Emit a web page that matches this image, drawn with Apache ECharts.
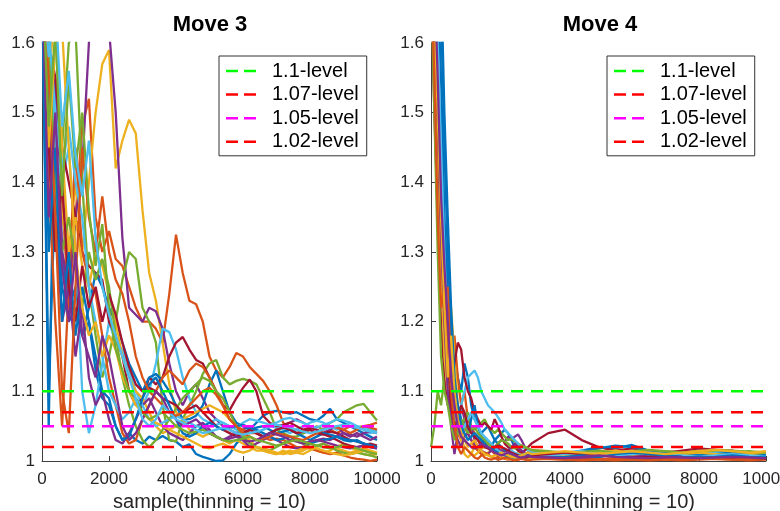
<!DOCTYPE html>
<html><head><meta charset="utf-8">
<script src="https://cdn.jsdelivr.net/npm/echarts@6/dist/echarts.min.js"></script>
<style>html,body{margin:0;padding:0;background:#fff}#c{width:780px;height:511px}</style>
</head><body><div id="c"></div>
<script>
// ---------- Move 3 (left panel) ----------
const move3Samples = [0,200,400,600,800,1000,1200,1400,1600,1800,2000,2200,2400,2600,2800,3000,3200,3400,3600,3800,4000,4200,4400,4600,4800,5000,5200,5400,5600,5800,6000,6200,6400,6600,6800,7000,7200,7400,7600,7800,8000,8200,8400,8600,8800,9000,9200,9400,9600,9800,10000];
const m3c01 = [1.70,1.05,1.55,1.30,1.22,1.25,1.18,1.20,1.13,1.09, 1.08,1.05,1.03,1.04,1.03,1.025,1.035,1.03,1.036,1.03, 1.028,1.02,1.024,1.01,1.006,1.003,1.0,1.001,1.01,1.025, 1.035,1.045,1.055,1.065,1.07,1.072,1.07,1.068,1.07,1.065, 1.06,1.058,1.065,1.075,1.06,1.055,1.05,1.045,1.04,1.035, 1.03];
const m3c02 = [1.70,1.45,1.30,1.38,1.22,1.35,1.48,1.52,1.35,1.30, 1.33,1.29,1.28,1.25,1.22,1.20,1.20,1.19,1.17,1.24, 1.325,1.27,1.23,1.225,1.20,1.15,1.13,1.12,1.135,1.155, 1.15,1.135,1.125,1.115,1.10,1.08,1.055,1.045,1.045,1.04, 1.045,1.04,1.04,1.045,1.04,1.045,1.05,1.048,1.05,1.052, 1.055];
const m3c03 = [1.70,1.60,1.45,1.35,1.30,1.40,1.30,1.40,1.50,1.57, 1.59,1.42,1.46,1.49,1.47,1.36,1.27,1.23,1.17,1.11, 1.07,1.06,1.045,1.04,1.035,1.04,1.035,1.03,1.025,1.03, 1.025,1.02,1.015,1.015,1.012,1.01,1.015,1.01,1.012,1.015, 1.02,1.015,1.012,1.015,1.02,1.025,1.02,1.015,1.01,1.008, 1.01];
const m3c04 = [1.70,1.40,1.55,1.30,1.25,1.35,1.42,1.60,1.70,1.70, 1.62,1.50,1.32,1.22,1.21,1.20,1.22,1.215,1.19,1.14, 1.10,1.08,1.10,1.11,1.09,1.07,1.06,1.05,1.045,1.04, 1.045,1.05,1.04,1.035,1.04,1.045,1.05,1.055,1.06,1.055, 1.05,1.045,1.04,1.045,1.05,1.04,1.035,1.04,1.035,1.03, 1.035];
const m3c05 = [1.70,1.50,1.35,1.45,1.60,1.62,1.40,1.25,1.18,1.12, 1.15,1.20,1.26,1.30,1.29,1.22,1.20,1.17,1.08,1.03, 1.028,1.06,1.08,1.10,1.125,1.14,1.145,1.12,1.11,1.115, 1.118,1.115,1.11,1.09,1.07,1.045,1.04,1.035,1.035,1.04, 1.045,1.05,1.045,1.055,1.06,1.07,1.075,1.08,1.082,1.07, 1.058];
const m3c06 = [1.70,1.65,1.45,1.40,1.45,1.30,1.10,1.04,1.08,1.14, 1.20,1.17,1.16,1.13,1.10,1.08,1.10,1.14,1.19,1.185, 1.16,1.12,1.09,1.07,1.06,1.055,1.06,1.055,1.05,1.045, 1.04,1.045,1.04,1.045,1.05,1.048,1.045,1.04,1.045,1.05, 1.055,1.058,1.055,1.05,1.045,1.05,1.055,1.05,1.045,1.04, 1.045];
const m3c07 = [1.70,1.60,1.55,1.45,1.40,1.35,1.30,1.28,1.27,1.26, 1.20,1.18,1.15,1.10,1.08,1.09,1.12,1.11,1.12,1.15, 1.17,1.178,1.16,1.145,1.14,1.12,1.10,1.08,1.073,1.09, 1.105,1.117,1.10,1.065,1.055,1.05,1.052,1.055,1.05,1.045, 1.048,1.045,1.04,1.042,1.04,1.035,1.03,1.028,1.025,1.022, 1.02];
const m3c08 = [1.70,1.10,1.40,1.25,1.20,1.22,1.18,1.22,1.27,1.25, 1.22,1.20,1.17,1.14,1.12,1.10,1.12,1.125,1.115,1.10, 1.08,1.06,1.06,1.065,1.08,1.11,1.13,1.10,1.07,1.055, 1.05,1.045,1.048,1.05,1.045,1.04,1.042,1.045,1.04,1.035, 1.03,1.035,1.04,1.038,1.035,1.03,1.028,1.03,1.025,1.02, 1.018];
const m3c09 = [1.70,1.40,1.20,1.05,1.25,1.45,1.30,1.26,1.24,1.18, 1.12,1.08,1.04,1.025,1.03,1.06,1.08,1.10,1.12,1.13, 1.12,1.11,1.13,1.14,1.135,1.12,1.10,1.08,1.06,1.05, 1.045,1.04,1.04,1.035,1.03,1.032,1.03,1.025,1.02,1.02, 1.018,1.015,1.012,1.01,1.012,1.008,1.005,1.003,1.002,1.0, 1.002];
const m3c10 = [1.70,1.55,1.65,1.45,1.30,1.35,1.28,1.25,1.30,1.28, 1.24,1.20,1.15,1.12,1.10,1.09,1.07,1.05,1.04,1.045, 1.05,1.06,1.065,1.07,1.075,1.08,1.075,1.07,1.06,1.05, 1.04,1.03,1.02,1.015,1.012,1.01,1.012,1.015,1.012,1.01, 1.015,1.02,1.025,1.02,1.018,1.015,1.012,1.015,1.018,1.015, 1.012];
const m3c11 = [1.70,1.50,1.35,1.20,1.25,1.15,1.22,1.12,1.08,1.10, 1.06,1.03,1.025,1.04,1.06,1.08,1.09,1.07,1.05,1.04, 1.035,1.03,1.04,1.05,1.055,1.045,1.035,1.03,1.035,1.04, 1.03,1.02,1.025,1.03,1.035,1.03,1.025,1.02,1.018,1.02, 1.025,1.03,1.032,1.03,1.035,1.04,1.038,1.035,1.04,1.042, 1.04];
const m3c12 = [1.70,1.60,1.40,1.30,1.35,1.28,1.22,1.30,1.26,1.29, 1.25,1.18,1.12,1.08,1.05,1.03,1.02,1.03,1.045,1.06, 1.075,1.09,1.10,1.11,1.12,1.115,1.10,1.09,1.07,1.05, 1.035,1.025,1.02,1.018,1.015,1.02,1.025,1.03,1.028,1.025, 1.02,1.022,1.025,1.02,1.015,1.012,1.01,1.012,1.01,1.008, 1.005];
const m3c13 = [1.70,1.62,1.50,1.42,1.48,1.40,1.35,1.25,1.20,1.15, 1.10,1.08,1.06,1.07,1.09,1.08,1.06,1.05,1.055,1.06, 1.065,1.06,1.055,1.05,1.048,1.05,1.052,1.055,1.05,1.048, 1.055,1.06,1.058,1.055,1.052,1.055,1.06,1.062,1.058,1.055, 1.05,1.048,1.052,1.055,1.06,1.058,1.055,1.05,1.048,1.045, 1.042];
const m3c14 = [1.70,1.45,1.30,1.40,1.25,1.20,1.28,1.22,1.25,1.20, 1.24,1.21,1.17,1.135,1.11,1.10,1.105,1.10,1.09,1.085, 1.08,1.07,1.075,1.08,1.07,1.06,1.05,1.045,1.04,1.035, 1.04,1.045,1.04,1.035,1.04,1.045,1.048,1.045,1.04,1.042, 1.045,1.04,1.038,1.035,1.03,1.025,1.022,1.02,1.022,1.025, 1.022];
const m3c15 = [1.70,1.30,1.45,1.20,1.30,1.18,1.25,1.20,1.15,1.10, 1.09,1.05,1.03,1.035,1.06,1.09,1.11,1.12,1.10,1.08, 1.06,1.04,1.035,1.04,1.05,1.055,1.05,1.045,1.048,1.05, 1.052,1.048,1.045,1.04,1.035,1.03,1.032,1.035,1.03,1.028, 1.025,1.028,1.03,1.032,1.035,1.032,1.03,1.028,1.025,1.023, 1.02];
const m3c16 = [1.70,1.55,1.35,1.10,1.04,1.25,1.45,1.35,1.30,1.38, 1.30,1.26,1.24,1.20,1.15,1.12,1.10,1.09,1.08,1.07, 1.065,1.07,1.08,1.09,1.10,1.105,1.095,1.08,1.06,1.05, 1.04,1.035,1.03,1.032,1.035,1.04,1.038,1.035,1.032,1.03, 1.035,1.04,1.045,1.05,1.048,1.045,1.04,1.045,1.05,1.048, 1.045];
const m3c17 = [1.70,1.45,1.60,1.62,1.45,1.30,1.22,1.18,1.20,1.15, 1.18,1.16,1.12,1.10,1.08,1.07,1.06,1.055,1.05,1.045, 1.04,1.035,1.03,1.025,1.02,1.018,1.022,1.025,1.02,1.015, 1.012,1.015,1.02,1.018,1.015,1.012,1.01,1.012,1.015,1.018, 1.02,1.018,1.015,1.012,1.01,1.008,1.01,1.012,1.015,1.012, 1.01];
const m3c18 = [1.70,1.35,1.50,1.28,1.20,1.30,1.18,1.15,1.12,1.18, 1.15,1.10,1.05,1.03,1.04,1.06,1.08,1.10,1.09,1.07, 1.06,1.05,1.055,1.06,1.05,1.04,1.035,1.03,1.032,1.035, 1.03,1.028,1.03,1.035,1.04,1.038,1.035,1.03,1.028,1.025, 1.028,1.03,1.028,1.025,1.022,1.02,1.018,1.02,1.022,1.02, 1.018];
const m3c19 = [1.70,1.48,1.62,1.38,1.55,1.42,1.50,1.36,1.28,1.34, 1.22,1.16,1.13,1.10,1.09,1.07,1.06,1.065,1.07,1.06, 1.05,1.045,1.04,1.042,1.045,1.04,1.035,1.03,1.028,1.03, 1.032,1.035,1.03,1.028,1.025,1.022,1.025,1.028,1.03,1.028, 1.025,1.022,1.02,1.018,1.02,1.022,1.02,1.018,1.015,1.012, 1.01];
const m3c20 = [1.70,1.58,1.66,1.48,1.56,1.44,1.38,1.46,1.32,1.25, 1.21,1.18,1.15,1.12,1.09,1.06,1.05,1.06,1.08,1.07, 1.06,1.055,1.05,1.045,1.04,1.042,1.045,1.048,1.045,1.04, 1.038,1.04,1.042,1.045,1.05,1.052,1.05,1.048,1.045,1.042, 1.04,1.042,1.045,1.048,1.05,1.052,1.05,1.048,1.045,1.042, 1.04];

// ---------- Move 4 (right panel) ----------
const move4Samples = [0,100,200,300,400,500,600,700,800,900,1000,1100,1200,1300,1400,1500,1600,1700,1800,1900,2000,2100,2200,2300,2400,2500,2600,2700,2800,2900,3000,3500,4000,4500,5000,5500,6000,6500,7000,7500,8000,8500,9000,9500,10000];
const m4c01 = [1.70,1.70,1.70,1.65,1.45, 1.30,1.20,1.15,1.12,1.10, 1.14,1.12,1.08,1.06,1.05, 1.04,1.045,1.05,1.04,1.03, 1.035,1.04,1.045,1.04,1.03, 1.02,1.015,1.01,1.008,1.005, 1.004, 1.006,1.01,1.015,1.02,1.018,1.023,1.015,1.012,1.01,1.012,1.01,1.008,1.01,1.008];
const m4c02 = [1.70,1.55,1.40,1.37,1.30, 1.22,1.15,1.18,1.12,1.08, 1.10,1.06,1.05,1.04,1.03, 1.02,1.025,1.02,1.015,1.01, 1.008,1.012,1.015,1.01,1.005, 1.003,1.002,1.004,1.006,1.005, 1.004, 1.003,1.002,1.004,1.003,1.002,1.003,1.004,1.003,1.002,1.003,1.004,1.005,1.004,1.003];
const m4c03 = [1.70,1.60,1.45,1.30,1.18, 1.20,1.22,1.15,1.08,1.03, 1.01,1.005,1.01,1.02,1.015, 1.01,1.008,1.012,1.015,1.02, 1.018,1.015,1.012,1.01,1.008, 1.01,1.012,1.01,1.008,1.006, 1.005, 1.008,1.012,1.01,1.008,1.006,1.008,1.01,1.012,1.01,1.012,1.015,1.012,1.01,1.012];
const m4c04 = [1.70,1.70,1.60,1.40,1.33, 1.15,1.05,1.01,1.04,1.08, 1.06,1.04,1.05,1.03,1.02, 1.025,1.03,1.02,1.015,1.02, 1.025,1.03,1.028,1.035,1.03, 1.035,1.038,1.03,1.02,1.015, 1.01, 1.008,1.006,1.008,1.01,1.008,1.006,1.008,1.01,1.012,1.01,1.008,1.01,1.008,1.006];
const m4c05 = [1.02,1.05,1.10,1.08,1.12, 1.15,1.10,1.08,1.06,1.05, 1.06,1.07,1.05,1.045,1.05, 1.055,1.06,1.05,1.045,1.04, 1.045,1.04,1.035,1.03,1.032, 1.028,1.025,1.022,1.02,1.018, 1.015, 1.012,1.01,1.012,1.015,1.012,1.01,1.012,1.014,1.012,1.015,1.013,1.012,1.014,1.012];
const m4c06 = [1.70,1.65,1.55,1.40,1.25, 1.15,1.08,1.03,1.05,1.08, 1.10,1.12,1.125,1.13,1.12, 1.10,1.09,1.08,1.075,1.07, 1.063,1.055,1.045,1.04,1.035, 1.03,1.025,1.02,1.018,1.015, 1.012, 1.01,1.012,1.015,1.012,1.01,1.012,1.015,1.013,1.012,1.01,1.012,1.014,1.012,1.01];
const m4c07 = [1.70,1.50,1.35,1.20,1.12, 1.08,1.10,1.14,1.17,1.16, 1.12,1.10,1.09,1.07,1.06, 1.05,1.055,1.05,1.045,1.06, 1.05,1.035,1.025,1.02,1.018, 1.02,1.015,1.012,1.015,1.02, 1.025, 1.04,1.045,1.03,1.02,1.015,1.018,1.015,1.012,1.015,1.018,1.016,1.015,1.006,1.005];
const m4c08 = [1.70,1.70,1.68,1.55,1.35, 1.25,1.18,1.10,1.08,1.06, 1.05,1.04,1.06,1.08,1.05, 1.035,1.03,1.025,1.02,1.03, 1.025,1.02,1.015,1.012,1.01, 1.008,1.006,1.005,1.004,1.003, 1.005, 1.004,1.008,1.012,1.018,1.022,1.02,1.015,1.012,1.01,1.008,1.01,1.012,1.01,1.008];
const m4c09 = [1.70,1.60,1.45,1.30,1.20, 1.25,1.12,1.06,1.04,1.03, 1.05,1.04,1.03,1.02,1.015, 1.01,1.005,1.003,1.002,1.004, 1.006,1.005,1.003,1.002,1.003, 1.004,1.006,1.008,1.01,1.012, 1.01, 1.006,1.004,1.003,1.002,1.001,1.002,1.003,1.002,1.001,1.002,1.003,1.002,1.001,1.002];
const m4c10 = [1.70,1.58,1.40,1.28,1.15, 1.10,1.12,1.08,1.05,1.03, 1.02,1.015,1.01,1.008,1.012, 1.018,1.02,1.025,1.02,1.015, 1.01,1.006,1.004,1.003,1.005, 1.008,1.01,1.008,1.006,1.005, 1.004, 1.006,1.008,1.01,1.012,1.015,1.012,1.01,1.008,1.01,1.012,1.01,1.008,1.01,1.012];
const m4c11 = [1.70,1.62,1.48,1.32,1.20, 1.10,1.06,1.04,1.03,1.02, 1.035,1.04,1.03,1.025,1.02, 1.015,1.012,1.01,1.015,1.02, 1.018,1.015,1.012,1.015,1.02, 1.025,1.02,1.015,1.012,1.01, 1.008, 1.006,1.004,1.005,1.006,1.008,1.006,1.005,1.004,1.005,1.006,1.005,1.004,1.006,1.005];
const m4c12 = [1.70,1.50,1.30,1.15,1.10, 1.08,1.05,1.03,1.04,1.06, 1.05,1.04,1.045,1.05,1.04, 1.035,1.03,1.025,1.022,1.02, 1.025,1.03,1.028,1.025,1.02, 1.018,1.02,1.022,1.02,1.018, 1.016, 1.014,1.012,1.013,1.015,1.012,1.014,1.016,1.014,1.012,1.014,1.016,1.015,1.013,1.012];
const m4c13 = [1.70,1.70,1.60,1.45,1.30, 1.18,1.10,1.06,1.05,1.04, 1.05,1.06,1.07,1.06,1.05, 1.04,1.035,1.03,1.025,1.02, 1.015,1.012,1.01,1.012,1.015, 1.012,1.01,1.008,1.01,1.012, 1.01, 1.008,1.01,1.012,1.01,1.008,1.01,1.012,1.01,1.008,1.006,1.008,1.01,1.008,1.006];
const m4c14 = [1.70,1.60,1.50,1.35,1.25, 1.15,1.08,1.05,1.06,1.08, 1.07,1.05,1.04,1.035,1.03, 1.025,1.02,1.018,1.015,1.02, 1.022,1.02,1.018,1.015,1.012, 1.01,1.008,1.006,1.005,1.006, 1.008, 1.01,1.012,1.01,1.008,1.006,1.005,1.006,1.008,1.006,1.005,1.004,1.005,1.004,1.003];
const m4c15 = [1.70,1.70,1.70,1.70,1.50, 1.35,1.22,1.12,1.08,1.05, 1.04,1.03,1.035,1.04,1.035, 1.03,1.025,1.02,1.018,1.015, 1.012,1.01,1.008,1.006,1.005, 1.004,1.006,1.008,1.01,1.008, 1.006, 1.005,1.006,1.008,1.006,1.01,1.012,1.01,1.008,1.006,1.005,1.006,1.008,1.006,1.005];
const m4c16 = [1.70,1.55,1.35,1.22,1.25, 1.18,1.10,1.05,1.02,1.01, 1.02,1.015,1.01,1.005,1.003, 1.008,1.012,1.01,1.006,1.004, 1.002,1.003,1.005,1.004,1.002, 1.001,1.002,1.003,1.002,1.001, 1.002, 1.003,1.002,1.001,1.002,1.003,1.002,1.001,1.002,1.003,1.004,1.003,1.002,1.003,1.004];
const m4c17 = [1.70,1.65,1.50,1.35,1.22, 1.12,1.18,1.10,1.06,1.04, 1.03,1.02,1.025,1.03,1.02, 1.015,1.01,1.008,1.006,1.008, 1.01,1.012,1.01,1.008,1.006, 1.005,1.006,1.008,1.01,1.012, 1.01, 1.012,1.014,1.012,1.01,1.012,1.014,1.012,1.01,1.012,1.014,1.016,1.014,1.012,1.014];
const m4c18 = [1.70,1.70,1.55,1.38,1.28, 1.20,1.12,1.08,1.05,1.035, 1.03,1.025,1.02,1.018,1.02, 1.025,1.022,1.02,1.015,1.012, 1.01,1.008,1.01,1.012,1.01, 1.008,1.006,1.005,1.006,1.008, 1.006, 1.005,1.004,1.006,1.008,1.006,1.005,1.004,1.006,1.005,1.004,1.005,1.006,1.005,1.004];

// ---------- levels / labels ----------
const levelNames = ['1.1-level','1.07-level','1.05-level','1.02-level'];
const levelValues = [1.1, 1.07, 1.05, 1.02];
const levelColors = ['#00ff00','#ff0000','#ff00ff','#ff0000'];
const panelTitles = ['Move 3','Move 4'];
const xAxisTitle = 'sample(thinning = 10)';
const chainColors = ['#0072BD','#D95319','#EDB120','#7E2F8E','#77AC30','#4DBEEE','#A2142F'];

const move3Chains = [m3c01,m3c02,m3c03,m3c04,m3c05,m3c06,m3c07,m3c08,m3c09,m3c10,m3c11,m3c12,m3c13,m3c14,m3c15,m3c16,m3c17,m3c18,m3c19,m3c20];
const move4Chains = [m4c01,m4c02,m4c03,m4c04,m4c05,m4c06,m4c07,m4c08,m4c09,m4c10,m4c11,m4c12,m4c13,m4c14,m4c15,m4c16,m4c17,m4c18];

const FONT = '"Liberation Sans", Arial, Helvetica, sans-serif';
const AX = '#404040';

function chainSeries(xs, chains, gi) {
  return chains.map((ys, k) => ({
    type: 'line', xAxisIndex: gi, yAxisIndex: gi,
    data: ys.map((y, i) => [xs[i], y]),
    symbol: 'none', showSymbol: false, silent: true, z: 2,
    lineStyle: { color: chainColors[k % 7], width: 2.3 },
    itemStyle: { color: chainColors[k % 7] }
  }));
}
function levelSeries(gi) {
  return levelValues.map((v, j) => ({
    type: 'line', name: levelNames[j], xAxisIndex: gi, yAxisIndex: gi,
    data: [[0, v], [10000, v]],
    symbol: 'none', showSymbol: false, silent: true, z: 5,
    lineStyle: { color: levelColors[j], width: 2.5, type: [12, 8] },
    itemStyle: { color: levelColors[j] }
  }));
}

const grids = [
  { left: 42, right: 403, top: 43, bottom: 50, outerBoundsMode: 'none', containLabel: false },
  { left: 431, right: 14, top: 43, bottom: 50, outerBoundsMode: 'none', containLabel: false }
];

const xAxes = [0, 1].map(i => ({
  gridIndex: i, type: 'value', min: 0, max: 10000, interval: 2000,
  name: xAxisTitle, nameLocation: 'middle', nameGap: 31,
  nameTextStyle: { fontSize: 20, color: '#262626', fontFamily: FONT },
  axisLine: { show: true, onZero: false, lineStyle: { color: AX, width: 1 } },
  axisTick: { show: true, inside: true, length: 5, lineStyle: { color: AX } },
  axisLabel: { fontSize: 17, color: '#262626', fontFamily: FONT, margin: 10,
    formatter: v => String(v), showMaxLabel: true, showMinLabel: true },
  splitLine: { show: false }
}));
const yAxes = [0, 1].map(i => ({
  gridIndex: i, type: 'value', min: 1, max: 1.6, interval: 0.1,
  axisLine: { show: true, onZero: false, lineStyle: { color: AX, width: 1 } },
  axisTick: { show: true, inside: true, length: 5, lineStyle: { color: AX } },
  axisLabel: { fontSize: 17, color: '#262626', fontFamily: FONT, margin: 7,
    formatter: v => String(Math.round(v * 10) / 10) },
  splitLine: { show: false }
}));

const dashIcon = 'path://M0,0H12V2.5H0Z M18,0H30V2.5H18Z';
function legendAt(left) {
  return {
    left: left, top: 56, orient: 'vertical', data: levelNames,
    backgroundColor: '#fff', borderColor: '#333', borderWidth: 1,
    padding: [5, 8, 4, 7], itemWidth: 30, itemHeight: 2.5, itemGap: 3.6,
    icon: dashIcon, selectedMode: false,
    textStyle: { fontSize: 20, color: '#000', fontFamily: FONT, lineHeight: 20, padding: [0, 0, 0, 11] }
  };
}

const option = {
  animation: false,
  backgroundColor: '#fff',
  title: panelTitles.map((t, i) => ({
    text: t, left: i === 0 ? 210 : 600, top: 14, textAlign: 'center', padding: 0,
    textStyle: { fontSize: 22, fontWeight: 'bold', color: '#000', fontFamily: FONT }
  })),
  grid: grids,
  xAxis: xAxes,
  yAxis: yAxes,
  legend: [legendAt(219), legendAt(607)],
  series: [].concat(
    chainSeries(move3Samples, move3Chains, 0),
    levelSeries(0),
    chainSeries(move4Samples, move4Chains, 1),
    levelSeries(1)
  )
};
const chart = echarts.init(document.getElementById('c'), null, { renderer: 'canvas' });
chart.setOption(option);
</script></body></html>
